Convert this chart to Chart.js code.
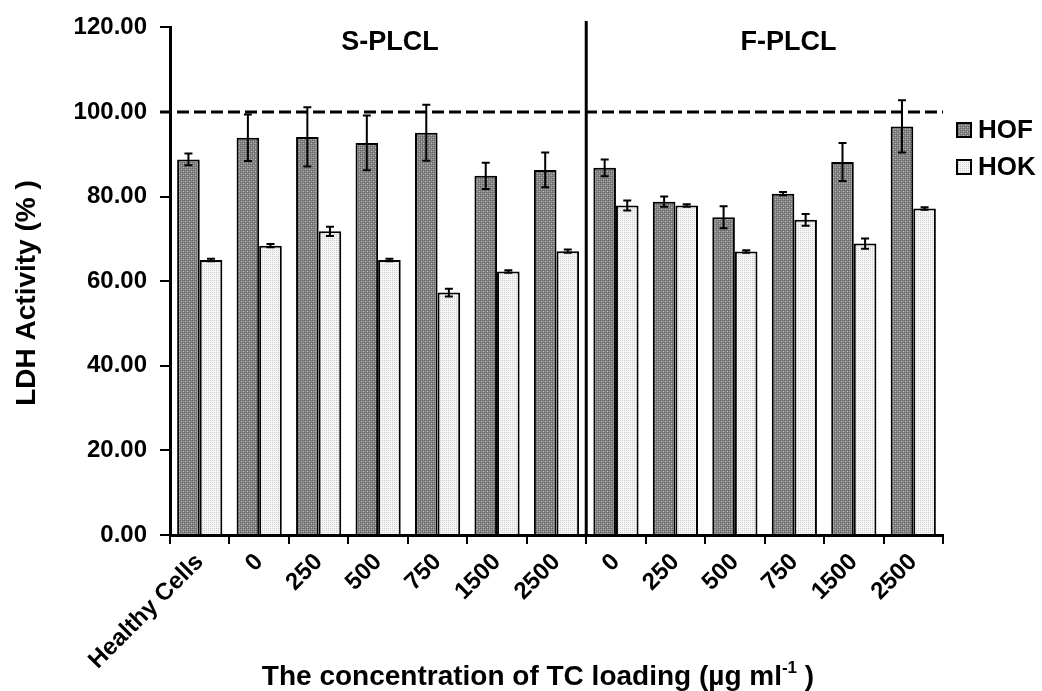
<!DOCTYPE html>
<html>
<head>
<meta charset="utf-8">
<script src="https://cdn.jsdelivr.net/npm/chart.js@4.4.1/dist/chart.umd.min.js"></script>
<style>
  html, body { margin: 0; padding: 0; background: #fff; }
  #wrap { width: 1042px; height: 691px; }
</style>
</head>
<body>
<div id="wrap"><canvas id="myChart"></canvas></div>
<script>
// data
const categories = ['Healthy Cells', '0', '250', '500', '750', '1500', '2500', '0', '250', '500', '750', '1500', '2500'];
const hofValues = [88.8, 93.9, 94.1, 92.7, 95.1, 84.9, 86.3, 86.8, 78.8, 75.1, 80.7, 88.2, 96.6];
const hofErrors = [1.4, 5.5, 7.0, 6.5, 6.6, 3.1, 4.1, 2.0, 1.2, 2.6, 0.4, 4.5, 6.2];
const hokValues = [65.0, 68.4, 71.8, 65.0, 57.3, 62.3, 67.1, 77.9, 77.9, 67.0, 74.5, 68.9, 77.2];
const hokErrors = [0.3, 0.4, 1.1, 0.3, 0.9, 0.3, 0.4, 1.2, 0.3, 0.3, 1.4, 1.2, 0.3];
const yTicks = [0, 20, 40, 60, 80, 100, 120];
const groupLabels = ['S-PLCL', 'F-PLCL'];
const referenceLevel = 100;

const FONT = "'Liberation Sans', Arial, sans-serif";

// little textured fills like the original print
function makePattern(base, dark, light) {
  const c = document.createElement('canvas');
  c.width = 4; c.height = 4;
  const g = c.getContext('2d');
  g.fillStyle = base; g.fillRect(0, 0, 4, 4);
  g.fillStyle = dark;
  g.fillRect(0, 0, 1, 1); g.fillRect(2, 2, 1, 1);
  g.fillRect(2, 0, 1, 1); g.fillRect(0, 2, 1, 1);
  g.fillStyle = light;
  g.fillRect(1, 1, 1, 1); g.fillRect(3, 3, 1, 1);
  return g.createPattern(c, 'repeat');
}
const hofFill = makePattern('#8a8a8a', '#626262', '#b0b0b0');
const hokFill = makePattern('#f4f4f4', '#cfcfcf', '#ffffff');

const errorBars = {
  id: 'errorBars',
  afterDatasetsDraw(chart) {
    const ctx = chart.ctx, y = chart.scales.y;
    const errs = [hofErrors, hokErrors];
    ctx.save();
    ctx.strokeStyle = '#000';
    ctx.lineWidth = 2;
    chart.data.datasets.forEach((ds, i) => {
      chart.getDatasetMeta(i).data.forEach((bar, j) => {
        const v = ds.data[j], e = errs[i][j];
        const top = y.getPixelForValue(v + e), bot = y.getPixelForValue(v - e);
        ctx.beginPath();
        ctx.moveTo(bar.x, top); ctx.lineTo(bar.x, bot);
        ctx.moveTo(bar.x - 4, top); ctx.lineTo(bar.x + 4, top);
        ctx.moveTo(bar.x - 4, bot); ctx.lineTo(bar.x + 4, bot);
        ctx.stroke();
      });
    });
    ctx.restore();
  }
};

const decorations = {
  id: 'decorations',
  afterDraw(chart) {
    const ctx = chart.ctx, x = chart.scales.x, y = chart.scales.y;
    const area = chart.chartArea;
    ctx.save();
    // dashed 100% line
    ctx.strokeStyle = '#000';
    ctx.lineWidth = 3;
    ctx.setLineDash([12, 5]);
    const ly = y.getPixelForValue(referenceLevel);
    ctx.beginPath(); ctx.moveTo(area.left - 10, ly); ctx.lineTo(area.right, ly); ctx.stroke();
    ctx.setLineDash([]);
    // divider between S and F groups
    const dx = (x.getPixelForValue(6) + x.getPixelForValue(7)) / 2;
    ctx.beginPath(); ctx.moveTo(dx, 21); ctx.lineTo(dx, area.bottom); ctx.stroke();

    ctx.fillStyle = '#000';
    ctx.font = 'bold 27px ' + FONT;
    ctx.textAlign = 'center';
    ctx.textBaseline = 'middle';
    ctx.fillText(groupLabels[0], x.getPixelForValue(3.2), 43);
    ctx.fillText(groupLabels[1], x.getPixelForValue(9.9), 43);

    // legend
    const items = [['HOF', hofFill, 130], ['HOK', hokFill, 167]];
    ctx.textAlign = 'left';
    ctx.font = 'bold 26px ' + FONT;
    items.forEach(([t, fill, cy]) => {
      ctx.fillStyle = fill;
      ctx.fillRect(957, cy - 7, 14, 14);
      ctx.lineWidth = 2;
      ctx.strokeRect(957, cy - 7, 14, 14);
      ctx.fillStyle = '#000';
      ctx.fillText(t, 978, cy + 1);
    });

    // y axis title
    ctx.save();
    ctx.translate(27, 293);
    ctx.rotate(-Math.PI / 2);
    ctx.textAlign = 'center';
    ctx.font = 'bold 28px ' + FONT;
    ctx.fillText('LDH Activity (% )', 0, 0);
    ctx.restore();

    // x axis title with superscript
    ctx.textBaseline = 'alphabetic';
    ctx.textAlign = 'left';
    const big = 'bold 28px ' + FONT, small = 'bold 17px ' + FONT;
    const parts = [['The concentration of TC loading (\u00b5g ml', big, 0], ['-1', small, -12], [' )', big, 0]];
    let w = 0;
    parts.forEach(p => { ctx.font = p[1]; w += ctx.measureText(p[0]).width; });
    let px = 538 - w / 2;
    parts.forEach(p => { ctx.font = p[1]; ctx.fillText(p[0], px, 685 + p[2]); px += ctx.measureText(p[0]).width; });
    ctx.restore();
  }
};

new Chart(document.getElementById('myChart'), {
  type: 'bar',
  data: {
    labels: categories,
    datasets: [
      { label: 'HOF', data: hofValues, backgroundColor: hofFill, borderColor: '#000', borderWidth: 2 },
      { label: 'HOK', data: hokValues, backgroundColor: hokFill, borderColor: '#000', borderWidth: 2 }
    ]
  },
  options: {
    responsive: true,
    maintainAspectRatio: false,
    animation: false,
    categoryPercentage: 0.76,
    barPercentage: 1.0,
    layout: { padding: { top: 25, right: 99, left: 0, bottom: 0 } },
    plugins: { legend: { display: false }, tooltip: { enabled: false } },
    scales: {
      x: {
        grid: { drawOnChartArea: false, color: '#000', lineWidth: 2, tickLength: 9, offset: true },
        border: { color: '#000', width: 3 },
        ticks: { color: '#000', font: { family: FONT, size: 24, weight: 'bold' }, maxRotation: 45, minRotation: 45, padding: 4, autoSkip: false },
        afterFit: s => { s.height = 156; }
      },
      y: {
        min: 0, max: 120,
        afterBuildTicks: s => { s.ticks = yTicks.map(v => ({ value: v })); },
        grid: { drawOnChartArea: false, color: '#000', lineWidth: 2, tickLength: 10 },
        border: { color: '#000', width: 3 },
        ticks: { color: '#000', font: { family: FONT, size: 24, weight: 'bold' }, padding: 13, callback: v => v.toFixed(2) },
        afterFit: s => { s.width = 170; }
      }
    }
  },
  plugins: [errorBars, decorations]
});
</script>
</body>
</html>
